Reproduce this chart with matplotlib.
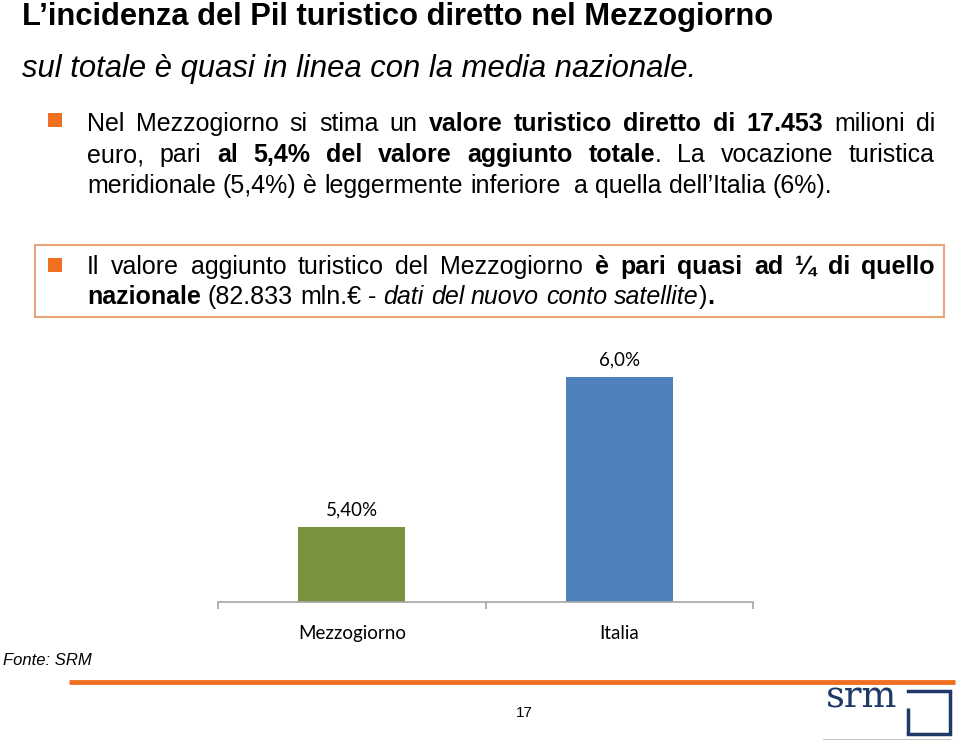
import matplotlib
matplotlib.use("Agg")
import matplotlib.pyplot as plt
from matplotlib.patches import Rectangle

# chart data
categories = ["Mezzogiorno", "Italia"]
values = [5.40, 6.0]
value_labels = ["5,40%", "6,0%"]
bar_colors = ["#77933C", "#4F81BD"]
y_base = 5.1

# slide text
title = "L’incidenza del Pil turistico diretto nel Mezzogiorno"
subtitle = "sul totale è quasi in linea con la media nazionale."
source = "Fonte: SRM"
page_number = "17"

N, B, I = "n", "b", "i"
bullet1 = [
    [("Nel Mezzogiorno si stima un ", N), ("valore turistico diretto di  17.453", B), ("  milioni di", N)],
    [("euro, pari ", N), ("al 5,4% del valore aggiunto totale", B), (". La vocazione turistica", N)],
    [("meridionale (5,4%) è leggermente inferiore  a quella dell’Italia (6%).", N)],
]
bullet2 = [
    [("Il valore aggiunto turistico del Mezzogiorno ", N), ("è pari quasi ad ¼ di quello", B)],
    [("nazionale", B), (" (82.833 mln.€ - ", N), ("dati del nuovo conto satellite", I), (")", N), (".", B)],
]

ORANGE = "#F07022"
NAVY = "#1F3A68"

plt.rcParams["font.family"] = ["Liberation Sans", "DejaVu Sans"]

fig = plt.figure(figsize=(9.6, 7.41), dpi=100)
renderer = fig.canvas.get_renderer()

# overlay axes in pixel units for the slide text
ov = fig.add_axes([0, 0, 1, 1])
ov.set_xlim(0, 960)
ov.set_ylim(741, 0)
ov.axis("off")


def style_kw(style):
    return dict(fontweight="bold" if style == B else "normal",
                fontstyle="italic" if style == I else "normal")


def tokenize(runs):
    words = []
    spaces = 0
    for text, style in runs:
        for ch in text:
            if ch == " ":
                spaces += 1
                continue
            if not words or spaces > 0:
                words.append([spaces, [(ch, style)]])
                spaces = 0
            else:
                segs = words[-1][1]
                if segs[-1][1] == style:
                    segs[-1] = (segs[-1][0] + ch, style)
                else:
                    segs.append((ch, style))
    return words


def text_width(s, size, style=N):
    t = ov.text(0, 0, s, fontsize=size, **style_kw(style))
    w = t.get_window_extent(renderer).width
    t.remove()
    return w


def draw_line(x0, y, runs, size, right=None):
    words = tokenize(runs)
    space = text_width("a a", size) - text_width("aa", size)
    placed = []
    total = 0
    for sp, segs in words:
        items = []
        for txt, st in segs:
            t = ov.text(0, y, txt, fontsize=size, va="baseline", ha="left",
                        color="black", **style_kw(st))
            w = t.get_window_extent(renderer).width
            items.append((t, w))
            total += w
        placed.append((sp, items))
    if right is not None and len(placed) > 1:
        gap = (right - x0 - total) / (len(placed) - 1)
    else:
        gap = None
    x = x0
    for k, (sp, items) in enumerate(placed):
        if k > 0:
            x += gap if gap is not None else space * sp
        for t, w in items:
            t.set_x(x)
            x += w


BODY = 18

# title and subtitle
ov.text(22, 25, title, fontsize=22.2, fontweight="bold", va="baseline")
ov.text(22, 77, subtitle, fontsize=22.3, fontstyle="italic", va="baseline")

# first bullet block
ov.add_patch(Rectangle((48, 113), 14, 14, color=ORANGE, lw=0))
for k, runs in enumerate(bullet1):
    last = k == len(bullet1) - 1
    draw_line(87, 131 + 31 * k, runs, BODY, right=None if last else 935)

# boxed bullet
ov.add_patch(Rectangle((35, 245), 909, 72, fill=False, ec="#E9A477", lw=1.5))
ov.add_patch(Rectangle((48, 258), 14, 14, color=ORANGE, lw=0))
for k, runs in enumerate(bullet2):
    last = k == len(bullet2) - 1
    draw_line(87, 274 + 30 * k, runs, BODY, right=None if last else 935)

# footer
ov.text(3, 665, source, fontsize=12, fontstyle="italic", va="baseline")
ov.plot([69, 955], [682, 682], color=ORANGE, lw=3.5, solid_capstyle="butt")
ov.text(524, 717, page_number, fontsize=11, ha="center", va="baseline")

# srm logo
ov.text(897, 707, "srm", fontsize=26.5, family="DejaVu Serif", color=NAVY,
        ha="right", va="baseline")
ov.plot([908, 950, 950, 908], [691, 691, 734, 734], color=NAVY, lw=2.5,
        solid_joinstyle="miter")
ov.plot([908, 908], [708, 734], color=NAVY, lw=2.5, solid_capstyle="butt")
ov.plot([823, 950], [739, 739], color="#C8C8C8", lw=0.8)

# bar chart
fig_w, fig_h = 960, 741
ax_left, ax_right = 218, 753
ax_bottom, ax_top = 602, 327
ax = fig.add_axes([ax_left / fig_w, 1 - ax_bottom / fig_h,
                   (ax_right - ax_left) / fig_w, (ax_bottom - ax_top) / fig_h])
ax.patch.set_alpha(0)
xpos = list(range(len(categories)))
bars = ax.bar(xpos, [v - y_base for v in values], bottom=y_base, width=0.4,
              color=bar_colors)
ax.set_xlim(-0.5, len(categories) - 0.5)
ax.set_ylim(y_base, y_base + (ax_bottom - ax_top) / 250)
for b, lab in zip(bars, value_labels):
    ax.annotate(lab, (b.get_x() + b.get_width() / 2, b.get_y() + b.get_height()),
                xytext=(0, 6), textcoords="offset points", ha="center", va="bottom",
                fontsize=13.5, family=["Lato", "DejaVu Sans"], color="black")
for s in ["top", "right", "left"]:
    ax.spines[s].set_visible(False)
ax.spines["bottom"].set_color("#A6A6A6")
ax.spines["bottom"].set_linewidth(1.2)
ax.set_yticks([])
ax.set_xticks([-0.5, 0.5, 1.5])
ax.set_xticklabels([])
ax.tick_params(axis="x", length=5, color="#A6A6A6", width=1.2)
for x, c in zip(xpos, categories):
    ax.text(x, -0.115, c, transform=ax.get_xaxis_transform(), ha="center",
            va="center", fontsize=13.5, family=["Lato", "DejaVu Sans"], color="black")

fig.savefig("out.png", dpi=100)
